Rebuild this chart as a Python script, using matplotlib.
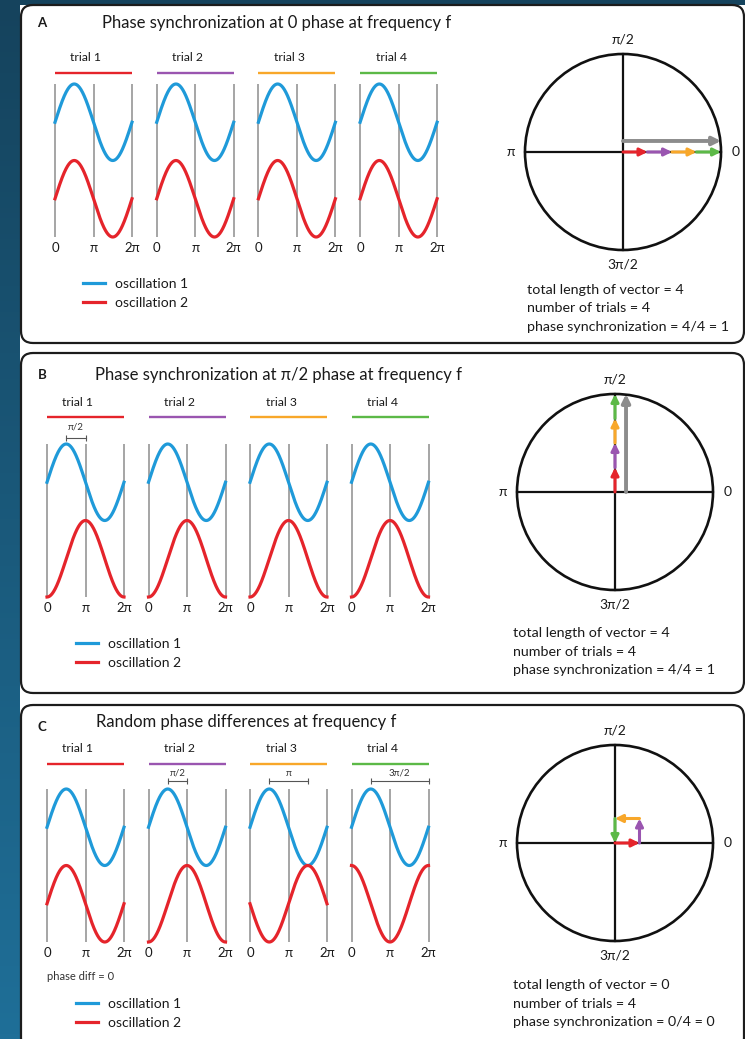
import numpy as np
import matplotlib
matplotlib.use('Agg')
import matplotlib.pyplot as plt
from matplotlib.patches import FancyBboxPatch, Circle, Rectangle
from matplotlib.colors import LinearSegmentedColormap

plt.rcParams['font.family'] = ['Lato', 'DejaVu Sans']

W, H = 745, 1039

# ---- data ----
panel_letters = ['A', 'B', 'C']
titles = ['Phase synchronization at 0 phase at frequency f',
          'Phase synchronization at π/2 phase at frequency f',
          'Random phase differences at frequency f']
trial_labels = ['trial 1', 'trial 2', 'trial 3', 'trial 4']
trial_colors = ['#e5242b', '#9a55b0', '#f8a72a', '#5cb947']
tick_pos = [0, np.pi, 2 * np.pi]
tick_labels = ['0', 'π', '2π']
osc_labels = ['oscillation 1', 'oscillation 2']
osc_colors = ['#1f9ad9', '#e5242b']
circle_angles = [0, 90, 180, 270]
circle_labels = ['0', 'π/2', 'π', '3π/2']

# phase lag of oscillation 2 in each trial (units of pi)
lags_A = [0, 0, 0, 0]
lags_B = [0.5, 0.5, 0.5, 0.5]
lags_C = [0, 0.5, 1.0, 1.5]
lag_names = {0.5: 'π/2', 1.0: 'π', 1.5: '3π/2'}
bracket_trials = [[], [0], [1, 2, 3]]

total_length = [4, 4, 0]
n_trials = [4, 4, 4]

# ---- layout (pixels) ----
layout = [
    dict(box=(21, 5, 744, 343), letter=(37, 23), title=(102, 23), wx=55, wdx=101.7,
         wtop=84, wbot=237, lab=26, bar=11, br=6, brt=17, leg=(83, 293.5),
         cc=(623, 152), txt=(527, 290)),
    dict(box=(21, 353, 744, 693), letter=(38, 375), title=(95, 375), wx=47, wdx=101.5,
         wtop=444, wbot=597, lab=42, bar=27, br=6, brt=17, leg=(76, 653.5),
         cc=(615, 492), txt=(513, 633)),
    dict(box=(21, 705, 744, 1050), letter=(38, 727), title=(96, 722), wx=47, wdx=101.5,
         wtop=789, wbot=942, lab=40, bar=25, br=8, brt=16, leg=(76, 1013.5),
         cc=(615, 843), txt=(513, 985)),
]
all_lags = [lags_A, lags_B, lags_C]
txt_col = '#1a1a1a'

fig = plt.figure(figsize=(W / 100, H / 100), dpi=100, facecolor='white')


def px_axes(x0, y0, x1, y1):
    return fig.add_axes([x0 / W, 1 - y1 / H, (x1 - x0) / W, (y1 - y0) / H])


# background + panel boxes
bg = fig.add_axes([0, 0, 1, 1])
bg.set_xlim(0, W)
bg.set_ylim(H, 0)
bg.axis('off')
cmap = LinearSegmentedColormap.from_list('strip', ['#15435d', '#1f6f98'])
bg.imshow(np.linspace(0, 1, 200).reshape(-1, 1), extent=(0, 20, H, 0), cmap=cmap, aspect='auto')
bg.add_patch(Rectangle((0, 0), W, 4.5, color='#15435d', lw=0))
bg.set_xlim(0, W)
bg.set_ylim(H, 0)

for p in range(3):
    L = layout[p]
    x0, y0, x1, y1 = L['box']
    bg.add_patch(FancyBboxPatch((x0, y0), x1 - x0, y1 - y0,
                                boxstyle='round,pad=0,rounding_size=12',
                                fc='white', ec='#1c1c1c', lw=1.6))
    bg.text(L['letter'][0], L['letter'][1], panel_letters[p], fontsize=9.5,
            fontweight='bold', ha='left', va='center', color=txt_col)
    bg.text(L['title'][0], L['title'][1], titles[p], fontsize=12, ha='left', va='center',
            color=txt_col)

for p in range(3):
    L = layout[p]
    lags = all_lags[p]
    ppu = (L['wbot'] - L['wtop']) / 4.0
    xx = np.linspace(0, 2 * np.pi, 300)
    first = None
    for i in range(4):
        x0 = L['wx'] + i * L['wdx']
        ax = px_axes(x0, L['wtop'], x0 + 77, L['wbot'])
        ax.set_xlim(0, 2 * np.pi)
        ax.set_ylim(-2, 2)
        ax.patch.set_alpha(0)
        for s in ax.spines.values():
            s.set_visible(False)
        ax.set_yticks([])
        ax.set_xticks(tick_pos, tick_labels)
        ax.tick_params(axis='x', length=0, pad=3.5, labelsize=9.5, labelcolor=txt_col)
        ax.vlines(tick_pos, -2, 2, color='#9a9a9a', lw=1.25, zorder=1, clip_on=False)
        l1, = ax.plot(xx, 1 + np.sin(xx), color=osc_colors[0], lw=2.3, clip_on=False, zorder=3)
        l2, = ax.plot(xx, -1 + np.sin(xx - lags[i] * np.pi), color=osc_colors[1], lw=2.3,
                      clip_on=False, zorder=3)
        if first is None:
            first = (ax, l1, l2)
        # trial bar and label
        ax.plot([0, 2 * np.pi], [2 + L['bar'] / ppu] * 2, color=trial_colors[i], lw=1.7,
                clip_on=False, solid_capstyle='butt')
        ax.text(31 / 77 * 2 * np.pi, 2 + L['lab'] / ppu, trial_labels[i], fontsize=8.8,
                ha='center', va='center', color=txt_col)
        if i in bracket_trials[p]:
            a, b = np.pi / 2, np.pi / 2 + lags[i] * np.pi
            ax.plot([a, b], [2 + L['br'] / ppu] * 2, color='#555555', lw=0.8, marker='|',
                    ms=5, mew=0.8, clip_on=False)
            ax.text((a + b) / 2, 2 + L['brt'] / ppu, lag_names[lags[i]], fontsize=7,
                    ha='center', va='center', color='#333333')
    ax, l1, l2 = first
    ax.legend([l1, l2], osc_labels, loc='center left',
              bbox_to_anchor=(L['leg'][0] / W, 1 - L['leg'][1] / H),
              bbox_transform=fig.transFigure, frameon=False, fontsize=10,
              handlelength=1.6, handletextpad=0.7, labelspacing=0.5,
              borderpad=0, borderaxespad=0, labelcolor=txt_col)
    if p == 2:
        bg.text(L['wx'], 977, 'phase diff = 0', fontsize=8, ha='left', va='center',
                color='#333333')

    # phase circle
    cx, cy = L['cc']
    R = 98
    cax = px_axes(cx - R, cy - R, cx + R, cy + R)
    cax.set_xlim(-4, 4)
    cax.set_ylim(-4, 4)
    cax.axis('off')
    cax.add_patch(Circle((0, 0), 4, fill=False, ec='#111111', lw=1.9, clip_on=False))
    cax.plot([-4, 4], [0, 0], color='#111111', lw=1.6, clip_on=False)
    cax.plot([0, 0], [-4, 4], color='#111111', lw=1.6, clip_on=False)
    for ang, lab in zip(circle_angles, circle_labels):
        t = np.deg2rad(ang)
        cax.text(4.6 * np.cos(t), 4.6 * np.sin(t), lab, fontsize=10, ha='center',
                 va='center', color=txt_col)
    ang = np.array(lags) * np.pi
    dx = np.round(np.cos(ang), 6)
    dy = np.round(np.sin(ang), 6)
    ex = np.cumsum(dx)
    ey = np.cumsum(dy)
    sx = ex - dx
    sy = ey - dy
    for i in range(4):
        cax.annotate('', xy=(ex[i], ey[i]), xytext=(sx[i], sy[i]),
                     arrowprops=dict(arrowstyle='-|>', color=trial_colors[i], lw=2.2,
                                     mutation_scale=11, shrinkA=0, shrinkB=0))
    rx, ry = ex[-1], ey[-1]
    rn = np.hypot(rx, ry)
    if rn > 1e-6:
        ox = 0.45 * abs(ry) / rn
        oy = 0.45 * abs(rx) / rn
        cax.annotate('', xy=(rx + ox, ry + oy), xytext=(ox, oy),
                     arrowprops=dict(arrowstyle='-|>', color='#8c8c8c', lw=2.8,
                                     mutation_scale=12, shrinkA=0, shrinkB=0))

    tx, ty = L['txt']
    lines = ['total length of vector = %d' % total_length[p],
             'number of trials = %d' % n_trials[p],
             'phase synchronization = %d/%d = %d' % (total_length[p], n_trials[p],
                                                     total_length[p] // n_trials[p])]
    for k, s in enumerate(lines):
        bg.text(tx, ty + k * 18.5, s, fontsize=10.3, ha='left', va='center', color=txt_col)

fig.savefig('out.png', dpi=100, facecolor='white')
